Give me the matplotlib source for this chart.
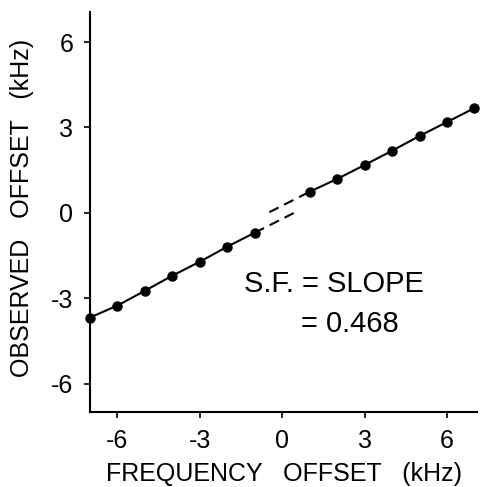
import numpy as np
import matplotlib
matplotlib.use('Agg')
import matplotlib.pyplot as plt

# measured points (kHz)
x_neg = [-7, -6, -5, -4, -3, -2, -1]
y_neg = [-3.68, -3.26, -2.74, -2.21, -1.72, -1.19, -0.70]
x_pos = [1, 2, 3, 4, 5, 6, 7]
y_pos = [0.74, 1.19, 1.68, 2.18, 2.70, 3.19, 3.68]

# dashed extrapolations across the gap
dash_upper_x = [-0.47, 1]
dash_upper_y = [0.02, 0.74]
dash_lower_x = [-1, 0.44]
dash_lower_y = [-0.70, 0.0]

ticks = [-6, -3, 0, 3, 6]
tick_labels = ['-6', '-3', '0', '3', '6']

plt.rcParams['font.family'] = ['Liberation Sans', 'DejaVu Sans']

fig = plt.figure(figsize=(4.94, 4.87), dpi=100)
ax = fig.add_axes([0.182, 0.154, 0.784, 0.821])

ax.plot(x_neg, y_neg, '-o', color='black', lw=1.5, ms=6.5, clip_on=False)
ax.plot(x_pos, y_pos, '-o', color='black', lw=1.5, ms=6.5, clip_on=False)
ax.plot(dash_upper_x, dash_upper_y, '--', color='black', lw=1.5, dashes=(5, 3))
ax.plot(dash_lower_x, dash_lower_y, '--', color='black', lw=1.5, dashes=(5, 3))

ax.set_xlim(-7, 7.1)
ax.set_ylim(-7, 7.05)
ax.set_xticks(ticks)
ax.set_xticklabels(tick_labels)
ax.set_yticks(ticks)
ax.set_yticklabels(tick_labels)
ax.tick_params(direction='out', length=4, width=1.2, labelsize=18, pad=8)

for side in ('top', 'right'):
    ax.spines[side].set_visible(False)
for side in ('left', 'bottom'):
    ax.spines[side].set_linewidth(1.5)

ax.set_xlabel('FREQUENCY   OFFSET   (kHz)', fontsize=18)
ax.set_ylabel('OBSERVED   OFFSET   (kHz)', fontsize=18)
ax.xaxis.set_label_coords(0.5, -0.124)
ax.yaxis.set_label_coords(-0.145, 0.51)

ax.text(-1.38, -2.8, 'S.F. = SLOPE', fontsize=21)
ax.text(0.69, -4.2, '= 0.468', fontsize=21)

fig.savefig('out.png', dpi=100)
